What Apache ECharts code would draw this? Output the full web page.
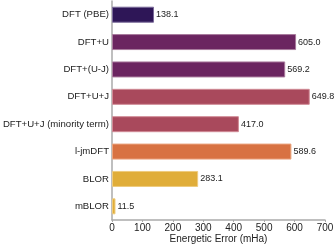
<!DOCTYPE html>
<html><head><meta charset="utf-8">
<script src="https://cdn.jsdelivr.net/npm/echarts@6/dist/echarts.min.js"></script>
<style>html,body{margin:0;padding:0;background:#fff}#c{width:336px;height:246px}</style>
</head><body><div id="c"></div>
<script>
const categories = ["DFT (PBE)","DFT+U","DFT+(U-J)","DFT+U+J","DFT+U+J (minority term)","l-jmDFT","BLOR","mBLOR"];
const values = [138.1,605.0,569.2,649.8,417.0,589.6,283.1,11.5];
const barColors = ["#2e1657","#6b2560","#6b2560","#a9495c","#a9495c","#d87242","#e0ad39","#e0ad39"];
const borderColors = ["#7a6a9a","#a87a9c","#a87a9c","#d08a95","#d08a95","#eaa47e","#eecb7e","#eecb7e"];
const xTicks = [0,100,200,300,400,500,600,700];

const chart = echarts.init(document.getElementById('c'), null, {renderer:'canvas'});
chart.setOption({
  animation:false,
  grid:{left:112,right:11,top:1,bottom:26,containLabel:false,outerBoundsMode:'none'},
  xAxis:{type:'value',min:0,max:700,interval:100,
    name:'Energetic Error (mHa)',nameLocation:'middle',nameGap:14,nameMoveOverlap:false,
    nameTextStyle:{fontFamily:'Liberation Sans',fontSize:10,color:'#222',verticalAlign:'top'},
    axisLine:{show:true,lineStyle:{color:'#aaa',width:1.5}},
    axisTick:{show:true,length:2,lineStyle:{color:'#aaa'}},
    axisLabel:{fontFamily:'Liberation Sans',fontSize:10,color:'#222',margin:3,
      formatter:v=>xTicks.includes(v)?String(v):''},
    splitLine:{show:false}},
  yAxis:{type:'category',data:categories,inverse:true,
    axisLine:{show:true,lineStyle:{color:'#aaa',width:1.5}},
    axisTick:{show:false},
    axisLabel:{fontFamily:'Liberation Sans',fontSize:9.6,color:'#222',margin:3}},
  series:[{type:'bar',barWidth:16,
    data:values.map((v,i)=>({value:v,itemStyle:{color:barColors[i],borderColor:borderColors[i],borderWidth:1}})),
    label:{show:true,position:'right',distance:2,fontFamily:'Liberation Sans',fontSize:9,color:'#222',
      formatter:p=>p.value.toFixed(1)}}]
});
</script></body></html>
